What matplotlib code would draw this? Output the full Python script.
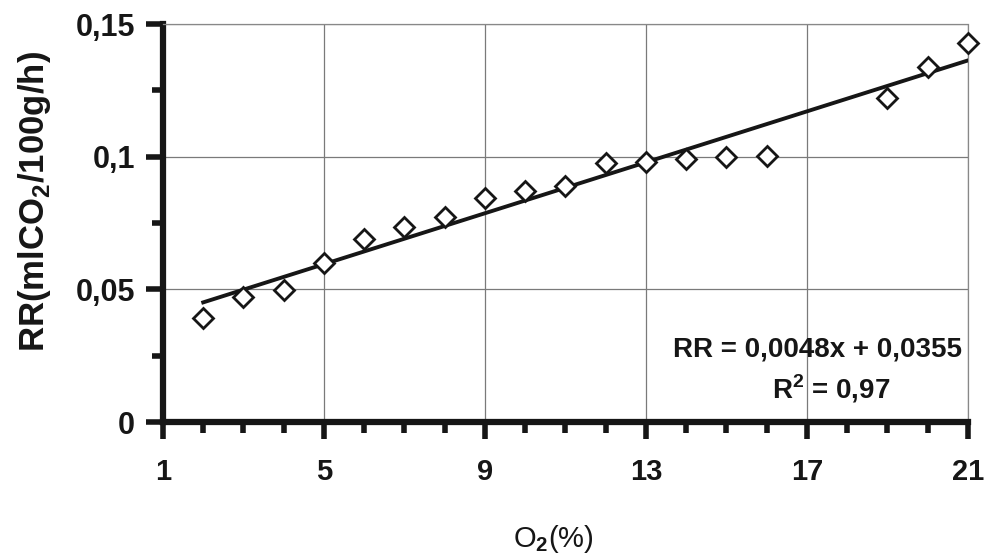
import matplotlib.pyplot as plt
from matplotlib.ticker import MultipleLocator, FixedLocator, FuncFormatter

# Tasa respiratoria frente a concentración de O2
o2 = [2, 3, 4, 5, 6, 7, 8, 9, 10, 11, 12, 13, 14, 15, 16, 19, 20, 21]
rr = [0.0392, 0.0471, 0.0498, 0.0599, 0.0690, 0.0735, 0.0773, 0.0844, 0.0871,
      0.0890, 0.0976, 0.0980, 0.0991, 0.0999, 0.1003, 0.1220, 0.1340, 0.1430]

# Recta de ajuste RR = a*x + b
slope = 0.0048
intercept = 0.0355
r2 = 0.97
fit_x = [2, 21]
fit_y = [slope * x + intercept for x in fit_x]

x_ticks = [1, 5, 9, 13, 17, 21]
y_ticks = [0, 0.05, 0.1, 0.15]

plt.rcParams['font.family'] = ['Liberation Sans', 'DejaVu Sans']
plt.rcParams['mathtext.fontset'] = 'custom'
plt.rcParams['mathtext.rm'] = 'Liberation Sans'
plt.rcParams['mathtext.bf'] = 'Liberation Sans:bold'

INK = '#161616'

fig = plt.figure(figsize=(9.86, 5.6), dpi=100)
ax = fig.add_axes([0.1653, 0.2464, 0.8164, 0.7106])

ax.plot(fit_x, fit_y, color=INK, linewidth=2.8, zorder=3)
ax.plot(o2, rr, linestyle='none', marker='D', markersize=10.5,
        markerfacecolor='white', markeredgecolor=INK,
        markeredgewidth=2.0, zorder=4, clip_on=False)

ax.set_xlim(1, 21)
ax.set_ylim(0, 0.15)
ax.xaxis.set_major_locator(FixedLocator(x_ticks))
ax.xaxis.set_minor_locator(MultipleLocator(1))
ax.yaxis.set_major_locator(FixedLocator(y_ticks))
ax.yaxis.set_minor_locator(MultipleLocator(0.025))
ax.yaxis.set_major_formatter(FuncFormatter(lambda v, p: f"{v:g}".replace('.', ',')))

ax.grid(True, which='major', color='#7a7a7a', linewidth=0.9)
ax.set_axisbelow(True)

for side in ('left', 'bottom'):
    ax.spines[side].set_linewidth(4.5)
    ax.spines[side].set_color(INK)
for side in ('top', 'right'):
    ax.spines[side].set_linewidth(0.9)
    ax.spines[side].set_linestyle((0, (1, 1)))
    ax.spines[side].set_color('#888888')

ax.tick_params(axis='both', which='major', direction='out', length=12, width=4,
               color=INK)
ax.tick_params(axis='both', which='minor', direction='out', length=8, width=4,
               color=INK)
ax.tick_params(axis='x', which='major', labelsize=21, pad=14)
ax.tick_params(axis='y', which='major', labelsize=22, pad=8)
for lab in ax.get_xticklabels() + ax.get_yticklabels():
    lab.set_fontweight('bold')
    lab.set_color(INK)

ax.set_xlabel(r'O$_\mathbf{2}$(%)', fontsize=21, color=INK)
ax.xaxis.set_label_coords(0.485, -0.295)
ax.xaxis.label.set_va('center')
ax.set_ylabel(r'RR(mlCO$_\mathbf{2}$/100g/h)', fontsize=25, fontweight='bold',
              color=INK)
ax.yaxis.set_label_coords(-0.16, 0.555)
ax.yaxis.label.set_va('center')

ax.text(20.85, 0.0275, f"RR = {slope:.4f}x + {intercept:.4f}".replace('.', ','),
        ha='right', va='center', fontsize=20, fontweight='bold', color=INK)
ax.text(17.6, 0.0125, r"R$^\mathbf{2}$ = " + f"{r2:.2f}".replace('.', ','),
        ha='center', va='center', fontsize=20, fontweight='bold', color=INK)

fig.savefig('out.png', dpi=100, facecolor='white')
